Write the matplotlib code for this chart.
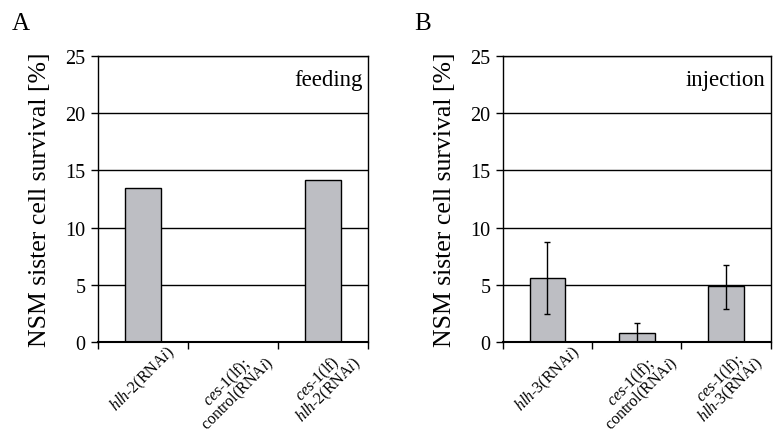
import numpy as np
import matplotlib.pyplot as plt

plt.rcParams['font.family'] = 'Liberation Serif'
plt.rcParams['mathtext.fontset'] = 'custom'
plt.rcParams['mathtext.rm'] = 'Liberation Serif'
plt.rcParams['mathtext.it'] = 'Liberation Serif:italic'

# panel A - feeding
labels_a = [r'$\mathit{hlh}\text{-}\mathit{2}\mathrm{(RNA}\mathit{i}\mathrm{)}$',
            r'$\mathit{ces}\text{-}\mathit{1}\mathrm{(lf);}$' + '\n' + r'$\mathrm{control(RNA}\mathit{i}\mathrm{)}$',
            r'$\mathit{ces}\text{-}\mathit{1}\mathrm{(lf)}$' + '\n' + r'$\mathit{hlh}\text{-}\mathit{2}\mathrm{(RNA}\mathit{i}\mathrm{)}$']
values_a = [13.5, 0.0, 14.2]

# panel B - injection
labels_b = [r'$\mathit{hlh}\text{-}\mathit{3}\mathrm{(RNA}\mathit{i}\mathrm{)}$',
            r'$\mathit{ces}\text{-}\mathit{1}\mathrm{(lf);}$' + '\n' + r'$\mathrm{control(RNA}\mathit{i}\mathrm{)}$',
            r'$\mathit{ces}\text{-}\mathit{1}\mathrm{(lf);}$' + '\n' + r'$\mathit{hlh}\text{-}\mathit{3}\mathrm{(RNA}\mathit{i}\mathrm{)}$']
values_b = [5.6, 0.8, 4.9]
err_lo_b = [3.15, 0.8, 2.0]
err_hi_b = [3.15, 0.9, 1.8]

fig = plt.figure(figsize=(7.76, 4.35), dpi=100)
ax_a = fig.add_axes([0.1263, 0.2115, 0.348, 0.6575])
ax_b = fig.add_axes([0.648, 0.2115, 0.345, 0.6575])

bar_col = '#bdbec3'

def style(ax, labels, note):
    x = np.arange(len(labels))
    ax.set_xlim(-0.5, len(labels) - 0.5)
    ax.set_ylim(0, 25)
    ax.set_yticks([0, 5, 10, 15, 20, 25])
    ax.set_yticklabels(['0', '5', '10', '15', '20', '25'], fontsize=14.5)
    ax.yaxis.grid(True, color='black', linewidth=1.0)
    ax.set_axisbelow(True)
    ax.set_xticks(x)
    ax.set_xticklabels(labels, rotation=45, ha='center', va='top',
                       fontsize=11.5, multialignment='center', linespacing=0.7)
    ax.tick_params(axis='x', which='major', length=0, pad=0)
    ax.set_xticks(np.arange(-0.5, len(labels)), minor=True)
    ax.tick_params(axis='x', which='minor', length=5, width=1, direction='out')
    ax.tick_params(axis='y', length=5, width=1, direction='out', pad=4)
    for s in ax.spines.values():
        s.set_linewidth(1.0)
    ax.spines['bottom'].set_linewidth(1.5)
    ax.set_ylabel('NSM sister cell survival [%]', fontsize=18.5, labelpad=10)
    ax.text(0.98, 0.955, note, transform=ax.transAxes, ha='right', va='top',
            fontsize=16.5)
    return x

x = style(ax_a, labels_a, 'feeding')
ax_a.bar(x, values_a, width=0.4, color=bar_col, edgecolor='black', linewidth=1.0)

x = style(ax_b, labels_b, 'injection')
ax_b.bar(x, values_b, width=0.4, color=bar_col, edgecolor='black', linewidth=1.0,
         yerr=[err_lo_b, err_hi_b], error_kw=dict(ecolor='black', elinewidth=1.0,
                                                  capsize=2, capthick=1.0))

fig.text(0.015, 0.97, 'A', fontsize=18, ha='left', va='top')
fig.text(0.534, 0.97, 'B', fontsize=18, ha='left', va='top')

fig.savefig('out.png', dpi=100)
